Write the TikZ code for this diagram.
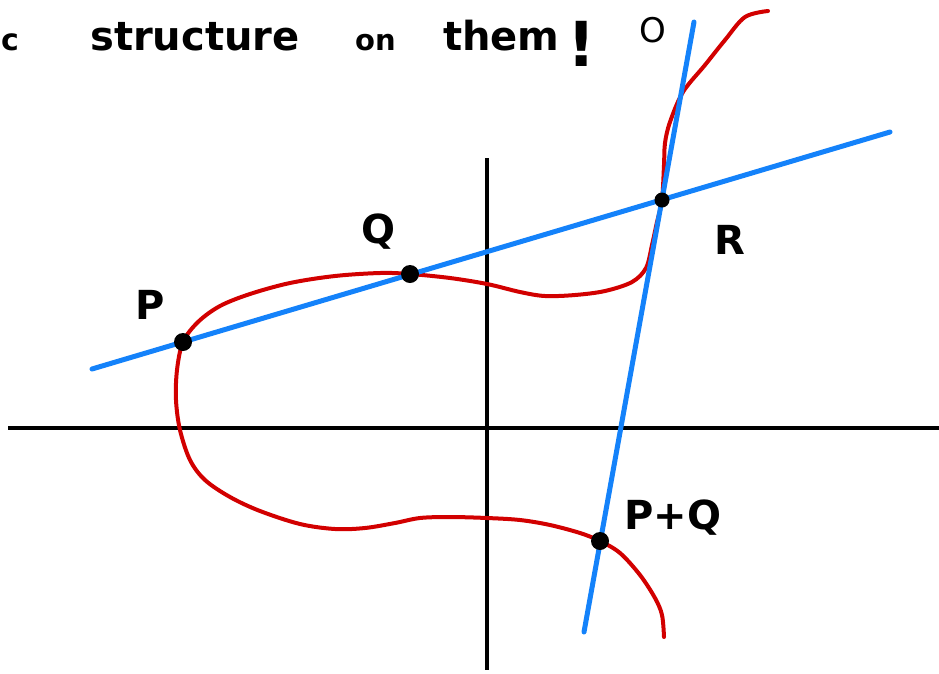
\documentclass[tikz,border=0pt]{standalone}
\usepackage{fontspec}
\setmainfont{DejaVu Sans}
\begin{document}
\begin{tikzpicture}[x=1pt,y=-1pt,
  axis/.style={line width=4.5pt,black},
  bl/.style={line width=5pt,color={rgb,255:red,20;green,130;blue,250},line cap=round},
  curve/.style={line width=4pt,color={rgb,255:red,210;green,0;blue,0},line cap=round,line join=round},
  dot/.style={circle,fill=black,inner sep=0pt,minimum size=18pt},
  lab/.style={font=\fontsize{40}{44}\selectfont\bfseries,inner sep=0pt},
  hw/.style={inner sep=0pt,anchor=base west}]
\useasboundingbox (0,0) rectangle (939,673);
% heading
\node[hw,font=\fontsize{30}{34}\selectfont\bfseries] (t1) at (1,50) {c};
\node[hw,font=\fontsize{40}{44}\selectfont\bfseries] (t2) at (90,50) {structure};
\node[hw,font=\fontsize{29}{33}\selectfont\bfseries] (t3) at (355,50) {on};
\node[hw,font=\fontsize{40}{44}\selectfont\bfseries] (t4) at (443,50) {them};
\node[hw,font=\fontsize{62}{66}\selectfont\bfseries] (t5) at (567,66) {!};
\node[lab,font=\fontsize{34}{38}\selectfont] (O) at (653,30) {O};
% axes
\draw[axis] (487,158) -- (487,670);
\draw[axis] (8,428) -- (939,428);
% red curve
\draw[curve] plot[smooth,tension=0.55] coordinates {
 (664,637) (662,615) (655,598) (640,575) (620,553) (600,541) (580,533) (550,525) (520,520)
 (487,518) (450,517) (420,518) (395,523) (365,528) (335,529) (300,524) (260,511)
 (230,497) (205,480) (190,460) (180,430) (176,400) (177,370) (183,342)
 (198,322) (220,306) (250,294) (290,283) (335,276) (380,273) (410,274) (450,278)
 (487,284) (520,292) (545,296) (575,295) (605,291) (632,282) (646,268) (652,245)
 (657,222) (662,200) (664,165) (665,143) (670,122) (683,92) (705,65) (725,40)
 (745,17) (768,11)};
% blue lines
\coordinate (a1) at (92,369);
\coordinate (a2) at (890,132);
\coordinate (b1) at (694,22);
\coordinate (b2) at (584,632);
\draw[bl] (a1) -- (a2);
\draw[bl] (b1) -- (b2);
% points
\node[dot] (P) at (183,342) {};
\node[dot] (Q) at (410,274) {};
\node[dot,minimum size=15pt] (R) at (662,200) {};
\node[dot] (PQ) at (600,541) {};
% labels
\node[lab] (Pl) at (150,305) {P};
\node[lab] (Ql) at (378,232) {Q};
\node[lab] (Rl) at (730,240) {R};
\node[lab,anchor=west] (PQl) at (624,518) {P+Q};
\end{tikzpicture}
\end{document}
